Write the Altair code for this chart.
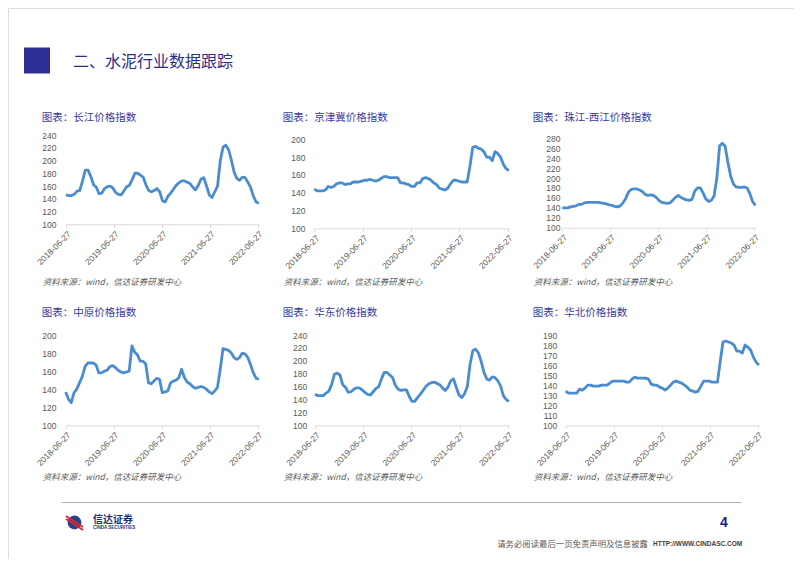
import altair as alt
import pandas as pd

# ---------------- data ----------------
dates = pd.date_range("2018-06-27", periods=71, freq="21D").strftime("%Y-%m-%d").tolist()
tick_dates = ["2018-06-27", "2019-06-27", "2020-06-27", "2021-06-27", "2022-06-27"]

changjiang = [146, 145, 145, 147, 152, 153, 168, 185, 185, 175,
              162, 158, 148, 149, 156, 159, 160, 157, 150, 147,
              146, 152, 159, 161, 170, 180, 180, 177, 174, 162,
              153, 151, 153, 156, 151, 137, 135, 144, 149, 155,
              161, 165, 168, 168, 166, 164, 158, 154, 161, 171,
              173, 160, 146, 142, 151, 160, 200, 221, 224, 217,
              201, 182, 172, 169, 174, 173, 166, 158, 144, 135,
              133]
jingjinji = [144, 142, 142, 142, 143, 147, 146, 147, 150, 151,
             151, 149, 150, 150, 152, 152, 152, 153, 154, 154,
             155, 154, 153, 154, 156, 158, 158, 157, 157, 157,
             157, 151, 151, 150, 149, 147, 147, 151, 151, 156,
             157, 156, 154, 151, 149, 145, 144, 143, 145, 150,
             154, 154, 153, 152, 152, 152, 170, 191, 192, 190,
             189, 186, 180, 180, 176, 186, 184, 180, 172, 167,
             165]
zhujiang = [140, 140, 140, 142, 143, 144, 147, 147, 150, 151,
            151, 151, 151, 151, 150, 149, 148, 146, 145, 143,
            142, 144, 150, 159, 172, 177, 178, 178, 176, 173,
            167, 165, 166, 165, 161, 155, 151, 150, 149, 150,
            155, 161, 165, 161, 158, 156, 155, 157, 174, 180,
            180, 170, 158, 153, 155, 164, 200, 265, 270, 264,
            232, 204, 188, 182, 181, 181, 182, 180, 168, 152,
            145]
zhongyuan = [137, 129, 125, 136, 140, 147, 154, 165, 169, 169,
             169, 167, 158, 158, 160, 161, 165, 166, 164, 161,
             159, 158, 159, 160, 188, 181, 178, 171, 171, 168,
             147, 146, 149, 152, 151, 136, 137, 138, 147, 149,
             150, 153, 162, 153, 148, 146, 143, 141, 142, 143,
             142, 140, 137, 135, 138, 142, 162, 185, 184, 183,
             180, 175, 173, 175, 180, 179, 175, 167, 158, 152,
             151]
huadong = [148, 146, 146, 146, 150, 153, 163, 179, 181, 178,
           163, 159, 151, 152, 156, 158, 158, 155, 151, 148,
           147, 152, 157, 160, 172, 182, 182, 178, 174, 162,
           156, 154, 155, 155, 145, 137, 137, 143, 148, 154,
           160, 164, 166, 167, 165, 163, 158, 154, 159, 169,
           172, 159, 147, 143, 149, 160, 195, 216, 218, 212,
           199, 182, 172, 170, 175, 174, 169, 161, 146, 140,
           137]
huabei = [134, 132, 132, 132, 132, 136, 135, 137, 140, 140,
          139, 139, 139, 140, 140, 140, 142, 144, 144, 144,
          144, 144, 143, 143, 146, 148, 147, 147, 147, 147,
          146, 141, 140, 140, 138, 137, 135, 137, 140, 143,
          144, 143, 142, 140, 138, 135, 134, 133, 134, 139,
          144, 144, 144, 143, 143, 143, 164, 183, 184, 183,
          182, 180, 174, 174, 172, 180, 178, 175, 168, 163,
          160]

titles = ["图表：长江价格指数", "图表：京津冀价格指数", "图表：珠江-西江价格指数",
          "图表：中原价格指数", "图表：华东价格指数", "图表：华北价格指数"]
ticks_y = [[100, 120, 140, 160, 180, 200, 220, 240],
           [100, 120, 140, 160, 180, 200],
           [100, 120, 140, 160, 180, 200, 220, 240, 260, 280],
           [100, 120, 140, 160, 180, 200],
           [100, 120, 140, 160, 180, 200, 220, 240],
           [100, 110, 120, 130, 140, 150, 160, 170, 180, 190]]
source_text = "资料来源：wind，信达证券研发中心"
header_text = "二、水泥行业数据跟踪"
footer_text = "请务必阅读最后一页免责声明及信息披露"
footer_url = "HTTP://WWW.CINDASC.COM"
page_no = "4"

# ---------------- layout ----------------
W, H = 786, 551
LINE = "#4a8cd0"
TITLE_C = "#3a3a9c"
LAB_C = "#595959"
CJK = "Noto Sans CJK SC"
LAT = "Liberation Sans"


def dt(s):
    return alt.DateTime(year=int(s[:4]), month=int(s[5:7]), date=int(s[8:10]), utc=True)


one = pd.DataFrame({"k": [0]})


def txt(text, x, y, size, color, align="left", font=CJK, weight="normal", style="normal"):
    return alt.Chart(one).mark_text(
        text=text, align=align, baseline="middle", fontSize=size, color=color,
        font=font, fontWeight=weight, fontStyle=style,
    ).encode(x=alt.value(x), y=alt.value(y))


# per panel: x0, x1 (pixel of first/last tick), y bottom, y top, ymax, label right edge, title x, row y
geo = [
    (58.0, 249.7, 216.3, 127.0, 240, 48.0, 33.7, 110, 274),
    (306.3, 499.7, 220.3, 131.3, 200, 297.0, 274.7, 110, 274),
    (554.3, 746.3, 219.7, 130.3, 280, 552.0, 524.7, 110, 274),
    (57.7, 249.7, 417.3, 327.0, 200, 48.0, 33.7, 305, 469),
    (307.0, 499.7, 417.3, 327.0, 240, 298.7, 274.7, 305, 469),
    (557.7, 749.7, 417.3, 327.0, 190, 548.7, 524.7, 305, 469),
]
series = [changjiang, jingjinji, zhujiang, zhongyuan, huadong, huabei]

layers = []
for vals, title, yt_vals, g in zip(series, titles, ticks_y, geo):
    x0, x1, yb, ytop, ymax, lab_r, tx, ty, sy = g
    xr1 = x0 + (x1 - x0) * 1470 / 1461
    df = pd.DataFrame({"date": dates, "value": vals})
    line = alt.Chart(df).mark_line(color=LINE, strokeWidth=2.8, strokeJoin="round").encode(
        x=alt.X("date:T",
                scale=alt.Scale(type="utc", domain=[dt(dates[0]), dt(dates[-1])], range=[x0, xr1]),
                axis=alt.Axis(orient="bottom", offset=yb - H, values=[dt(s) for s in tick_dates],
                              labelExpr="utcFormat(datum.value, '%Y-%m-%d')",
                              labelAngle=-45, labelAlign="right", labelBaseline="top",
                              labelFontSize=8.5, labelColor=LAB_C, labelFont=LAT,
                              domainColor="#d9d9d9", tickColor="#d9d9d9", tickSize=3,
                              labelPadding=2, grid=False, title=None,
                              labelOverlap=False, labelFlush=False)),
        y=alt.Y("value:Q",
                scale=alt.Scale(domain=[100, ymax], range=[yb, ytop]),
                axis=alt.Axis(orient="left", offset=-x0, values=yt_vals, domain=False,
                              ticks=False, grid=False, labelPadding=x0 - lab_r,
                              labelFontSize=8.5, labelColor=LAB_C, labelFont=LAT,
                              title=None)),
    )
    layers.append(line)
    layers.append(txt(title, tx, ty, 10.5, TITLE_C))
    layers.append(txt(source_text, tx + 1, sy, 8.5, LAB_C, style="italic"))

# header
layers.append(alt.Chart(one).mark_rect(color="#2e2e94").encode(
    x=alt.value(16), x2=alt.value(42), y=alt.value(39.5), y2=alt.value(65.5)))
layers.append(txt(header_text, 65, 53.5, 16, "#2b2d8a"))

# footer
layers.append(alt.Chart(one).mark_rule(color="#b0b0b0", strokeWidth=1.2).encode(
    x=alt.value(53.7), x2=alt.value(733.7), y=alt.value(494.5)))
layers.append(alt.Chart(one).mark_point(shape="circle", filled=True, size=190, color="#24438f", opacity=1).encode(
    x=alt.value(66.5), y=alt.value(514.5)))
layers.append(alt.Chart(one).mark_rule(color="#d7282f", strokeWidth=2).encode(
    x=alt.value(58), x2=alt.value(75), y=alt.value(508), y2=alt.value(519)))
layers.append(alt.Chart(one).mark_rule(color="#d7282f", strokeWidth=2).encode(
    x=alt.value(58), x2=alt.value(75), y=alt.value(511), y2=alt.value(522)))
layers.append(txt("信达证券", 85, 512, 10, "#1f2f7f", weight="bold"))
layers.append(txt("CINDA SECURITIES", 85, 520, 4.5, "#1f2f7f", font=LAT, weight="bold"))
layers.append(txt(page_no, 716, 515, 14, "#1a1a8c", align="center", font=LAT, weight="bold"))
layers.append(txt(footer_text, 640, 536, 8.4, LAB_C, align="right"))
layers.append(txt(footer_url, 645, 536, 6.5, "#404040", font=LAT, weight="bold"))

chart = alt.layer(*layers).resolve_scale(x="independent", y="independent").properties(
    width=W, height=H, padding=0, autosize=alt.AutoSizeParams(type="none"),
).configure_view(strokeWidth=0).configure(background="white")

chart.save("out.html", embed_options={"renderer": "svg", "actions": False})
